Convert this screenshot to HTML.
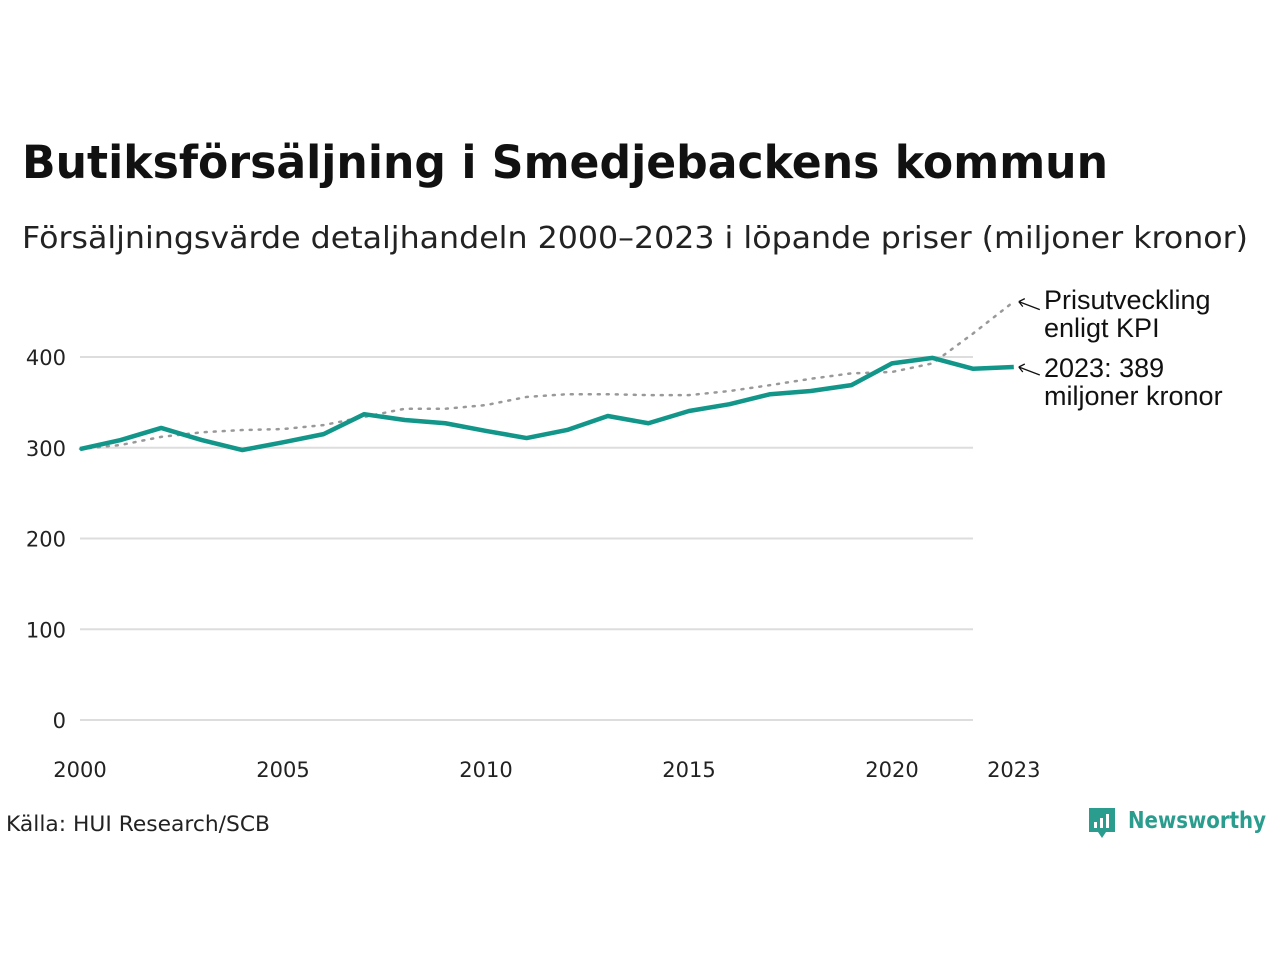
<!DOCTYPE html>
<html><head><meta charset="utf-8"><style>
body{margin:0;background:#fff;width:1280px;height:960px;overflow:hidden;font-family:"DejaVu Sans","Liberation Sans",sans-serif}
</style></head><body>
<svg width="1280" height="960" xmlns="http://www.w3.org/2000/svg">
<text x="22" y="178" font-size="45" font-weight="bold" fill="#111" textLength="1086" lengthAdjust="spacingAndGlyphs">Butiksförsäljning i Smedjebackens kommun</text>
<text x="22" y="248" font-size="30" fill="#222" textLength="1226" lengthAdjust="spacingAndGlyphs">Försäljningsvärde detaljhandeln 2000–2023 i löpande priser (miljoner kronor)</text>
<g id="grid"></g><g id="series"></g>
<text x="1044" y="309" font-family="Liberation Sans,sans-serif" font-size="27" fill="#111"><tspan x="1044">Prisutveckling</tspan><tspan x="1044" dy="28">enligt KPI</tspan></text>
<text x="1044" y="377" font-family="Liberation Sans,sans-serif" font-size="27" fill="#111"><tspan x="1044">2023: 389</tspan><tspan x="1044" dy="28">miljoner kronor</tspan></text>
<text x="6" y="831" font-size="21" fill="#222" textLength="264" lengthAdjust="spacingAndGlyphs">Källa: HUI Research/SCB</text>
<g>
<path d="M1089 808h26v24h-9l-4 6-4-6h-9z" fill="#2a9d8f"/>
<rect x="1094" y="822" width="3" height="6" fill="#fff"/><rect x="1100" y="818" width="3" height="10" fill="#fff"/><rect x="1106" y="814" width="3" height="14" fill="#fff"/>
<text x="1128" y="828" font-size="23" font-weight="bold" fill="#2a9d8f" textLength="138" lengthAdjust="spacingAndGlyphs">Newsworthy</text>
</g>
</svg>
<script>
const years=[2000,2001,2002,2003,2004,2005,2006,2007,2008,2009,2010,2011,2012,2013,2014,2015,2016,2017,2018,2019,2020,2021,2022,2023];
const sales=[298.6,308.5,321.8,308.5,297.5,306,315,337,330.6,327,318.5,310.7,319.6,335,327,340.5,348,359,362.5,369,393,399,387,389];
const kpi=[298.6,303,312,317,319.5,320.6,325,334,343,343,347,356,359,359,358,358,362.5,369,376,382,383.5,393,426,461];
const yTicks=[0,100,200,300,400];
const xTicks=[2000,2005,2010,2015,2020,2023];
const NS="http://www.w3.org/2000/svg";
const X=y=>80+(y-2000)*40.6, Y=v=>720-v*0.9075;
function mk(t,a,p){const e=document.createElementNS(NS,t);for(const k in a)e.setAttribute(k,a[k]);p.appendChild(e);return e;}
const g=document.getElementById('grid'), s=document.getElementById('series');
yTicks.forEach(v=>{
 const l=mk('line',{x1:80,x2:973,y1:Y(v),y2:Y(v),stroke:'#ddd','stroke-width':2},g);
 
 
 const t=mk('text',{x:66,y:Y(v)+8,'text-anchor':'end','font-size':21,fill:'#222'},g);t.textContent=v;
 
 
});
xTicks.forEach(v=>{
 const t=mk('text',{x:X(v),y:777,'text-anchor':'middle','font-size':21,fill:'#222'},g);t.textContent=v;
 
 
});
const kp=mk('polyline',{points:years.map((y,i)=>X(y)+','+Y(kpi[i])).join(' '),fill:'none',stroke:'#999','stroke-width':2.5,'stroke-dasharray':'2 7','stroke-linecap':'round'},s);


const sp=mk('polyline',{points:years.map((y,i)=>X(y)+','+Y(sales[i])).join(' '),fill:'none',stroke:'#12968a','stroke-width':4.5,'stroke-linejoin':'round'},s);


const lx=X(2023);
[[Y(kpi[23]),'kpi-arrow'],[Y(sales[23]),'sales-arrow']].forEach(([yy,n])=>{
 const a=mk('path',{d:`M${lx+26} ${yy+8}L${lx+5} ${yy}M${lx+5} ${yy}l6 -3M${lx+5} ${yy}l4 5`,stroke:'#111','stroke-width':1.3,fill:'none'},s);
 
 
});
</script>
</body></html>
